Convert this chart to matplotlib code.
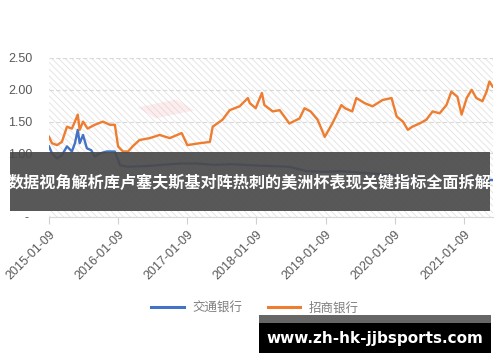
import matplotlib
matplotlib.use("Agg")
import matplotlib.pyplot as plt
import matplotlib.dates as mdates
from matplotlib.patches import Rectangle
import pandas as pd

plt.rcParams['font.family'] = ['Noto Sans CJK SC', 'DejaVu Sans']
plt.rcParams['hatch.color'] = '#e2e2e2'
plt.rcParams['hatch.linewidth'] = 0.6

# 招商银行 (orange)
cmb_dates = ["2015-01-09", "2015-01-25", "2015-02-20", "2015-03-18", "2015-04-14", "2015-05-10",
             "2015-05-26", "2015-06-10", "2015-06-20", "2015-07-08", "2015-08-01", "2015-09-08",
             "2015-10-21", "2015-11-26", "2015-12-23", "2016-01-09", "2016-02-03", "2016-03-02",
             "2016-03-26", "2016-05-01", "2016-06-25", "2016-08-15", "2016-10-08", "2016-12-10",
             "2017-01-09", "2017-03-15", "2017-05-08", "2017-05-23", "2017-07-14", "2017-08-21",
             "2017-10-12", "2017-11-25", "2017-12-05", "2018-01-05", "2018-02-07", "2018-02-20",
             "2018-04-05", "2018-05-12", "2018-07-02", "2018-08-25", "2018-09-20", "2018-10-22",
             "2018-11-28", "2019-01-05", "2019-02-14", "2019-04-03", "2019-04-22", "2019-05-30",
             "2019-06-21", "2019-08-04", "2019-09-14", "2019-11-07", "2019-12-24", "2020-01-20",
             "2020-02-22", "2020-03-19", "2020-04-12", "2020-05-20", "2020-06-25", "2020-07-28",
             "2020-09-03", "2020-10-09", "2020-11-04", "2020-12-06", "2020-12-28", "2021-01-24",
             "2021-02-19", "2021-03-16", "2021-04-17", "2021-05-09", "2021-05-24", "2021-06-10"]
cmb_values = [1.26, 1.16, 1.13, 1.18, 1.42, 1.39,
              1.50, 1.61, 1.37, 1.50, 1.39, 1.45,
              1.50, 1.45, 1.45, 1.11, 1.03, 1.03,
              1.11, 1.21, 1.24, 1.29, 1.24, 1.32,
              1.13, 1.16, 1.18, 1.42, 1.53, 1.68,
              1.74, 1.87, 1.79, 1.71, 1.95, 1.76,
              1.66, 1.68, 1.47, 1.55, 1.71, 1.66,
              1.53, 1.26, 1.47, 1.76, 1.71, 1.66,
              1.87, 1.79, 1.74, 1.84, 1.87, 1.58,
              1.50, 1.37, 1.42, 1.47, 1.53, 1.66,
              1.63, 1.76, 1.97, 1.89, 1.61, 1.87,
              2.00, 1.87, 1.82, 1.97, 2.13, 2.05]

# 交通银行 (blue)
bocom_dates = ["2015-01-09", "2015-01-25", "2015-02-20", "2015-03-18", "2015-04-14", "2015-05-10",
               "2015-05-26", "2015-06-10", "2015-06-20", "2015-07-08", "2015-07-28", "2015-08-20",
               "2015-09-08", "2015-10-05", "2015-11-10", "2015-12-23", "2016-01-20", "2016-03-01",
               "2016-06-01", "2016-09-01", "2016-12-01", "2017-03-01", "2017-06-01", "2017-09-01",
               "2018-01-05", "2018-04-01", "2018-07-01", "2018-10-01", "2019-01-05", "2019-04-01",
               "2019-07-01", "2019-10-01", "2020-01-09", "2020-04-01", "2020-07-01", "2020-10-01",
               "2021-01-09", "2021-03-01", "2021-06-10"]
bocom_values = [1.11, 1.00, 0.92, 0.97, 1.11, 1.03,
                1.16, 1.37, 1.16, 1.29, 1.08, 1.05,
                0.95, 1.00, 1.03, 1.03, 0.81, 0.79,
                0.80, 0.82, 0.84, 0.84, 0.82, 0.83,
                0.81, 0.80, 0.79, 0.72, 0.71, 0.72,
                0.70, 0.68, 0.66, 0.60, 0.58, 0.57,
                0.58, 0.60, 0.58]

year_ticks = ["2015-01-09", "2016-01-09", "2017-01-09", "2018-01-09",
              "2019-01-09", "2020-01-09", "2021-01-09"]
y_ticks = [0, 0.5, 1.0, 1.5, 2.0, 2.5]
# the 0.50 label sits fully under the banner in the reference
y_labels = ["- ", "", "1.00", "1.50", "2.00", "2.50"]

title = "数据视角解析库卢塞夫斯基对阵热刺的美洲杯表现关键指标全面拆解"
site = "www.zh-hk-jjbsports.com"

fig = plt.figure(figsize=(5, 3.62), dpi=100)
ax = fig.add_axes([0.098, 0.4006, 0.888, 0.4392])

ax.add_patch(Rectangle((0, 0), 1, 1, transform=ax.transAxes, facecolor='white',
                       hatch='\\\\\\\\\\', edgecolor='#e2e2e2', linewidth=0, zorder=0))

l1, = ax.plot(pd.to_datetime(bocom_dates), bocom_values, color='#4472c4', lw=1.7, zorder=3)
l2, = ax.plot(pd.to_datetime(cmb_dates), cmb_values, color='#ed7d31', lw=1.7, zorder=3)

ax.set_xlim(pd.Timestamp("2015-01-09"), pd.Timestamp("2021-06-12"))
ax.set_ylim(0, 2.5)
ax.set_yticks(y_ticks)
ax.set_yticklabels(y_labels)
ax.set_xticks(pd.to_datetime(year_ticks))
ax.xaxis.set_major_formatter(mdates.DateFormatter('%Y-%m-%d'))
plt.setp(ax.get_xticklabels(), rotation=45, ha='right', rotation_mode='anchor')

ax.tick_params(axis='y', length=0, pad=12, labelsize=9, labelcolor='#595959')
ax.tick_params(axis='x', length=5, color='#d0d0d0', pad=3, labelsize=9, labelcolor='#595959')
for lab in ax.get_xticklabels() + ax.get_yticklabels():
    lab.set_family(['Liberation Sans', 'DejaVu Sans'])

ax.grid(axis='y', color='#d9d9d9', lw=0.8, ls=(0, (4, 2)))
ax.set_axisbelow(True)
for s in ['top', 'right', 'left']:
    ax.spines[s].set_visible(False)
ax.spines['bottom'].set_color('#d9d9d9')

# faint pink stamp mark
ax.add_patch(Rectangle((0.24, 0.62), 0.1, 0.08, transform=ax.transAxes, angle=30,
                       facecolor='#f4a0a8', alpha=0.18, linewidth=0, zorder=1))

leg = fig.legend([l1, l2], ['交通银行', '招商银行'], loc='center', bbox_to_anchor=(0.51, 0.149),
                 ncol=2, frameon=False, fontsize=9, handlelength=2.6, columnspacing=2.0,
                 handletextpad=0.7)
for t in leg.get_texts():
    t.set_color('#7f7f7f')
for h in leg.get_lines():
    h.set_linewidth(2.2)

# dark title banner
fig.patches.append(Rectangle((0.02, 0.417), 0.96, 0.163, transform=fig.transFigure,
                             facecolor='#4a4a4a', alpha=0.92, zorder=5))
fig.text(0.5, 0.494, title, color='white', fontsize=11.6, fontweight='bold',
         ha='center', va='center', zorder=6)

# site watermark box
fig.patches.append(Rectangle((0.518, 0.025), 0.464, 0.105, transform=fig.transFigure,
                             facecolor='black', zorder=5))
fig.patches.append(Rectangle((0.518, 0.108), 0.464, 0.022, transform=fig.transFigure,
                             facecolor='#666666', zorder=5))
fig.text(0.75, 0.066, site, color='white', fontsize=11, fontweight='bold',
         family='DejaVu Sans', ha='center', va='center', zorder=6)

fig.savefig('out.png', dpi=100)
